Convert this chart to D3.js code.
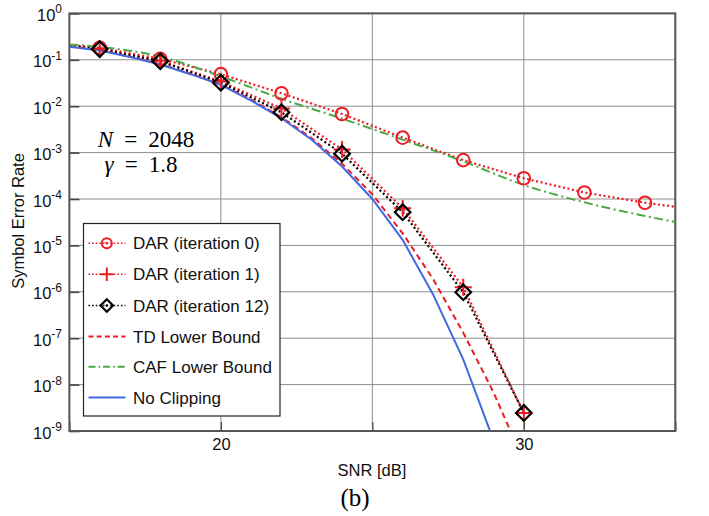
<!DOCTYPE html>
<html><head><meta charset="utf-8">
<script src="https://cdn.jsdelivr.net/npm/d3@7"></script>
<style>body{margin:0;background:#fff}svg{display:block}</style>
</head><body>
<svg id="c" width="709" height="516"></svg>
<script>
// ---- data ----
const xTicks = [15, 20, 25, 30, 35];
const xTickLabels = ["", "20", "", "30", ""];
const yExponents = [0, -1, -2, -3, -4, -5, -6, -7, -8, -9];

const snrDAR0 = [15, 16, 18, 20, 22, 24, 26, 28, 30, 32, 34, 35];
const serDAR0 = [0.209, 0.182, 0.105, 0.049, 0.019, 0.0068, 0.0021, 6.9e-4, 2.8e-4, 1.38e-4, 8.3e-5, 6.8e-5];

const snrDAR1 = [15, 16, 18, 20, 22, 24, 26, 28, 30];
const serDAR1 = [0.2, 0.174, 0.095, 0.034, 0.0089, 1.17e-3, 6.3e-5, 1.26e-6, 2.45e-9];

const snrDAR12 = [15, 16, 18, 20, 22, 24, 26, 28, 30];
const serDAR12 = [0.2, 0.17, 0.093, 0.032, 0.0074, 9.5e-4, 5.2e-5, 9.8e-7, 2.45e-9];

const snrTD = [15, 16, 17, 18, 19, 20, 21, 22, 23, 24, 25, 26, 27, 28, 29, 30];
const serTD = [0.195, 0.162, 0.117, 0.081, 0.050, 0.0295, 0.0138, 0.0058, 0.00204, 5.75e-4, 1.26e-4, 1.82e-5, 1.9e-6, 1.32e-7, 6.8e-9, 2.2e-10];

const snrCAF = [15, 16, 18, 20, 22, 24, 26, 28, 30, 32, 34, 35];
const serCAF = [0.214, 0.19, 0.117, 0.044, 0.0145, 0.0054, 0.0019, 6.5e-4, 2.0e-4, 8.5e-5, 4.3e-5, 3.2e-5];

const snrNC = [15, 16, 17, 18, 19, 20, 21, 22, 23, 24, 25, 26, 27, 28, 29];
const serNC = [0.19, 0.158, 0.115, 0.079, 0.049, 0.029, 0.0132, 0.0055, 0.0019, 5.0e-4, 1.0e-4, 1.32e-5, 8.9e-7, 3.5e-8, 6.3e-10];

const legendLabels = ["DAR (iteration 0)", "DAR (iteration 1)", "DAR (iteration 12)", "TD Lower Bound", "CAF Lower Bound", "No Clipping"];

// ---- chart ----
const RED = "#ec1c24", GREEN = "#4aa946", BLUE = "#4169e1";
const svg = d3.select("#c");
const L = 69.4, R = 675.3, T = 13.4, B = 431;
const x = d3.scaleLinear().domain([15, 35]).range([L, R]);
const y = d3.scaleLog().domain([1e-9, 1]).range([B, T]);

svg.append("defs").append("clipPath").attr("id", "clip")
  .append("rect").attr("x", L).attr("y", T).attr("width", R - L).attr("height", B - T);

// grid
const grid = svg.append("g");
grid.selectAll(".gx").data(xTicks).join("line")
  .attr("x1", d => x(d)).attr("x2", d => x(d)).attr("y1", T).attr("y2", B)
  .attr("stroke", "#8f8f8f").attr("stroke-width", 1);
grid.selectAll(".gy").data(yExponents).join("line")
  .attr("x1", L).attr("x2", R).attr("y1", d => y(Math.pow(10, d))).attr("y2", d => y(Math.pow(10, d)))
  .attr("stroke", "#8f8f8f").attr("stroke-width", 1);

// axes via d3
const xAxis = d3.axisBottom(x).tickValues(xTicks).tickSize(-9)
  .tickFormat((d, i) => xTickLabels[i]);
const gx = svg.append("g").attr("transform", `translate(0,${B})`).call(xAxis);
gx.select(".domain").remove();
gx.selectAll(".tick line").attr("stroke", "#444").attr("stroke-width", 1.2);
gx.selectAll(".tick text").attr("font-family", "Liberation Sans, Arial, sans-serif")
  .attr("font-size", 16.5).attr("fill", "#111").attr("dy", 0).attr("y", 19);

const yAxis = d3.axisLeft(y).tickValues(yExponents.map(e => Math.pow(10, e))).tickSize(-10).tickFormat("");
const gy = svg.append("g").attr("transform", `translate(${L},0)`).call(yAxis);
gy.select(".domain").remove();
gy.selectAll(".tick line").attr("stroke", "#444").attr("stroke-width", 1.6);

// y tick labels with superscripts
const yl = svg.append("g").attr("font-family", "Liberation Sans, Arial, sans-serif").attr("fill", "#111");
yExponents.forEach(e => {
  const t = yl.append("text").attr("x", 62).attr("y", y(Math.pow(10, e)) + 7.5)
    .attr("text-anchor", "end").attr("font-size", 16.5);
  t.append("tspan").text("10");
  t.append("tspan").attr("font-size", 12).attr("dy", -7.5).text(String(e));
});

// frame
svg.append("rect").attr("x", L).attr("y", T).attr("width", R - L).attr("height", B - T)
  .attr("fill", "none").attr("stroke", "#555").attr("stroke-width", 2);

// series
const plot = svg.append("g").attr("clip-path", "url(#clip)");
function line(xs, ys, curve) {
  return d3.line().x((d, i) => x(xs[i])).y((d, i) => y(ys[i])).curve(curve || d3.curveLinear)(ys);
}
const series = [
  {xs: snrDAR0, ys: serDAR0, color: RED, dash: "2,2.6", w: 2.2, marker: "circle"},
  {xs: snrDAR1, ys: serDAR1, color: RED, dash: "2,2.6", w: 2.2, marker: "plus"},
  {xs: snrDAR12, ys: serDAR12, color: "#000", dash: "2,2.6", w: 2.2, marker: "diamond"},
  {xs: snrTD, ys: serTD, color: RED, dash: "6,4", w: 2, marker: null},
  {xs: snrCAF, ys: serCAF, color: GREEN, dash: "9,3.5,2,3.5", w: 2, marker: null, curve: d3.curveMonotoneX},
  {xs: snrNC, ys: serNC, color: BLUE, dash: null, w: 2, marker: null}
];

function drawMarker(g, type, cx, cy, color, s) {
  if (type === "circle") {
    g.append("circle").attr("cx", cx).attr("cy", cy).attr("r", 6.3 * s)
      .attr("fill", "none").attr("stroke", color).attr("stroke-width", 2);
  } else if (type === "plus") {
    const h = 8.5 * s;
    g.append("path").attr("d", `M${cx - h},${cy}H${cx + h}M${cx},${cy - h}V${cy + h}`)
      .attr("stroke", color).attr("stroke-width", 2).attr("fill", "none");
  } else if (type === "diamond") {
    const h = 7.8 * s;
    g.append("path").attr("d", `M${cx},${cy - h}L${cx + h},${cy}L${cx},${cy + h}L${cx - h},${cy}Z`)
      .attr("stroke", color).attr("stroke-width", 2.2).attr("fill", "none");
  }
}

series.forEach(s => {
  plot.append("path").attr("d", line(s.xs, s.ys, s.curve))
    .attr("fill", "none").attr("stroke", s.color).attr("stroke-width", s.w)
    .attr("stroke-dasharray", s.dash);
});
series.forEach(s => {
  if (!s.marker) return;
  const mg = svg.append("g");
  s.xs.forEach((v, i) => {
    if (v >= 16 && v <= 34) drawMarker(mg, s.marker, x(v), y(s.ys[i]), s.color, 1);
  });
});

// annotation
const ann = svg.append("g").attr("font-family", "Liberation Serif, Times New Roman, serif")
  .attr("font-size", 23).attr("fill", "#000").attr("text-anchor", "middle");
const a1 = ann.append("text").attr("x", 146).attr("y", 147);
a1.append("tspan").attr("font-style", "italic").text("N");
a1.append("tspan").attr("dx", 11).text("=");
a1.append("tspan").attr("dx", 11).text("2048");
const a2 = ann.append("text").attr("x", 141).attr("y", 172);
a2.append("tspan").attr("font-style", "italic").text("γ");
a2.append("tspan").attr("dx", 11).text("=");
a2.append("tspan").attr("dx", 11).text("1.8");

// legend
const lg = svg.append("g");
lg.append("rect").attr("x", 83.5).attr("y", 223.5).attr("width", 196.5).attr("height", 192.5)
  .attr("fill", "#fff").attr("stroke", "#222").attr("stroke-width", 1.2);
const rowsY = [243.3, 274.3, 305.5, 336.5, 366.7, 397.5];
series.forEach((s, i) => {
  const cy = rowsY[i];
  lg.append("line").attr("x1", 88.5).attr("x2", 125.5).attr("y1", cy).attr("y2", cy)
    .attr("stroke", s.color).attr("stroke-width", s.marker ? 1.6 : 2)
    .attr("stroke-dasharray", s.marker ? "1.6,2" : (s.dash === "6,4" ? "5,3.2" : (s.dash ? "7,3,1.6,3" : null)));
  if (s.marker) {
    drawMarker(lg, s.marker, 106.8, cy, s.color, 0.8);
    if (s.marker !== "plus") lg.append("circle").attr("cx", 106.8).attr("cy", cy).attr("r", 1.3).attr("fill", s.color);
  }
  lg.append("text").attr("x", 133).attr("y", cy + 6)
    .attr("font-family", "Liberation Sans, Arial, sans-serif").attr("font-size", 17).attr("fill", "#111")
    .text(legendLabels[i]);
});

// axis titles
svg.append("text").attr("x", 372).attr("y", 476).attr("text-anchor", "middle")
  .attr("font-family", "Liberation Sans, Arial, sans-serif").attr("font-size", 16.5).attr("fill", "#111")
  .text("SNR [dB]");
svg.append("text").attr("transform", "translate(24,221) rotate(-90)").attr("text-anchor", "middle")
  .attr("font-family", "Liberation Sans, Arial, sans-serif").attr("font-size", 16.5).attr("fill", "#111")
  .text("Symbol Error Rate");
svg.append("text").attr("x", 355).attr("y", 506).attr("text-anchor", "middle")
  .attr("font-family", "Liberation Serif, Times New Roman, serif").attr("font-size", 25).attr("fill", "#000")
  .text("(b)");
</script>
</body></html>
